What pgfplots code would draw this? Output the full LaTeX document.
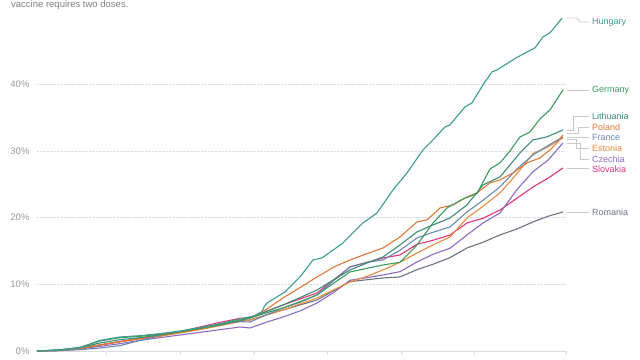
\documentclass[border=0pt]{standalone}
\usepackage{pgfplots}
\pgfplotsset{compat=1.18}
\usepackage{fontspec}
\setmainfont{Liberation Sans}
\definecolor{cHun}{HTML}{3D9C8C}
\definecolor{cGer}{HTML}{3C9A5F}
\definecolor{cLit}{HTML}{3F8C76}
\definecolor{cPol}{HTML}{E0773A}
\definecolor{cFra}{HTML}{6B87B5}
\definecolor{cEst}{HTML}{E88A3F}
\definecolor{cCze}{HTML}{8B6BC0}
\definecolor{cSlo}{HTML}{E0337A}
\definecolor{cRom}{HTML}{6B7381}
\definecolor{cGrid}{HTML}{DCDCDC}
\definecolor{cTick}{HTML}{999999}
\definecolor{cLead}{HTML}{C8C8C8}
\begin{document}
\begin{tikzpicture}
\begin{axis}[
  scale only axis, width=529pt, height=346.84pt,
  xmin=37, xmax=566, ymin=0, ymax=52,
  clip=false,
  axis x line*=bottom, axis y line*=left,
  y axis line style={draw=none},
  x axis line style={cGrid, line width=0.8pt},
  xtick={106.5,180,254,327.5,401,474.5,566},
  xticklabels={},
  xtick style={cGrid, line width=0.8pt},
  tick align=outside, major tick length=4pt,
  ytick={0,10,20,30,40},
  yticklabels={0\%,10\%,20\%,30\%,40\%},
  ytick style={draw=none},
  yticklabel style={font=\fontsize{9.5}{11}\selectfont, text=cTick, anchor=east, xshift=0pt},
  ymajorgrids, grid style={cGrid, densely dotted, line width=0.7pt},
  every axis plot/.append style={no marks, line width=1.1pt, line join=round},
]
% Romania
\addplot[cRom] coordinates {(37,0) (60,0.1) (80,0.4) (100,0.9) (120,1.4) (140,1.9) (160,2.3) (180,2.8) (200,3.3) (220,3.9) (240,4.5) (250,4.65) (283,6.15) (317,7.65) (350,10.4) (383,10.95) (400,11.1) (417,12.2) (433,13.0) (450,14.0) (467,15.45) (483,16.3) (500,17.4) (517,18.3) (533,19.35) (548,20.2) (563,20.85)};
% Slovakia
\addplot[cSlo] coordinates {(37,0) (60,0.1) (80,0.4) (100,0.9) (120,1.4) (140,1.9) (160,2.4) (180,2.9) (200,3.6) (220,4.3) (240,4.9) (250,5.0) (283,6.9) (317,8.7) (350,12.6) (383,13.95) (400,14.4) (417,16.0) (433,16.6) (450,17.4) (467,19.2) (483,19.9) (500,21.15) (517,22.9) (533,24.6) (548,25.9) (563,27.45)};
% Czechia
\addplot[cCze] coordinates {(37,0) (60,0.05) (80,0.3) (100,0.7) (120,1.1) (140,1.6) (160,2.0) (180,2.4) (200,2.8) (220,3.2) (240,3.6) (250,3.45) (266,4.3) (283,5.1) (300,6.0) (317,7.2) (334,8.8) (350,10.6) (367,11.0) (383,11.4) (400,11.9) (417,13.35) (433,14.5) (450,15.4) (467,17.4) (483,19.2) (500,20.7) (517,24.2) (533,26.9) (548,28.6) (563,31.2)};
% Estonia
\addplot[cEst] coordinates {(37,0) (60,0.1) (80,0.4) (100,0.9) (120,1.4) (140,1.8) (160,2.2) (180,2.7) (200,3.2) (220,3.8) (240,4.4) (250,4.65) (283,6.15) (317,7.95) (350,10.35) (367,11.2) (383,12.15) (400,13.3) (417,14.7) (433,15.9) (450,17.1) (467,19.95) (483,21.7) (500,23.7) (517,26.6) (533,29.6) (548,30.6) (563,31.95)};
% France
\addplot[cFra] coordinates {(37,0) (60,0.05) (80,0.2) (100,0.45) (120,0.8) (140,1.6) (160,2.3) (180,2.9) (200,3.4) (220,4.0) (240,4.4) (250,4.35) (266,5.4) (283,6.45) (300,7.3) (317,8.4) (334,10.6) (350,12.6) (367,13.3) (383,13.65) (400,15.1) (417,16.95) (433,17.8) (450,18.6) (467,20.85) (483,22.6) (500,24.6) (517,27.3) (533,29.4) (548,30.8) (563,32.1)};
% Poland
\addplot[cPol] coordinates {(37,0) (60,0.1) (80,0.4) (100,0.9) (120,1.4) (140,1.9) (160,2.3) (180,2.8) (200,3.4) (220,4.0) (240,4.6) (250,4.95) (266,6.2) (283,7.95) (300,9.5) (317,11.1) (334,12.6) (350,13.65) (367,14.6) (383,15.45) (400,17.1) (417,19.35) (427,19.65) (440,21.45) (453,21.9) (467,23.1) (477,23.7) (490,25.2) (500,25.65) (513,26.7) (527,28.2) (540,28.95) (550,30.15) (557,31.2) (563,32.4)};
% Lithuania
\addplot[cLit] coordinates {(37,0) (60,0.15) (80,0.5) (100,1.2) (120,1.7) (140,2.0) (160,2.4) (180,2.9) (200,3.4) (220,4.0) (240,4.6) (250,4.95) (266,5.9) (283,6.9) (300,8.0) (317,9.15) (334,10.7) (350,12.15) (367,13.2) (383,14.1) (400,15.9) (417,17.85) (433,18.9) (450,19.95) (467,21.9) (483,24.9) (500,26.1) (520,29.7) (533,31.65) (547,32.1) (563,33.15)};
% Germany
\addplot[cGer] coordinates {(37,0) (60,0.2) (80,0.55) (100,1.5) (120,2.0) (140,2.2) (160,2.5) (180,2.9) (200,3.4) (220,3.9) (240,4.6) (250,4.95) (266,5.7) (283,6.45) (300,7.4) (317,8.4) (334,10.2) (350,11.85) (367,12.4) (383,12.9) (400,13.3) (417,15.9) (433,19.2) (447,21.45) (463,22.8) (477,23.6) (490,27.3) (500,28.2) (510,30.0) (520,32.1) (530,32.85) (540,34.8) (550,36.15) (563,39.15)};
% Hungary
\addplot[cHun] coordinates {(37,0) (60,0.15) (80,0.5) (100,1.6) (120,2.1) (140,2.3) (160,2.6) (180,3.0) (200,3.5) (220,4.1) (240,4.8) (255,5.3) (262,5.9) (264,6.6) (267,7.2) (285,8.85) (300,11.1) (313,13.65) (322,13.95) (343,16.2) (363,19.2) (377,20.7) (393,24.15) (407,26.7) (423,30.15) (433,31.65) (445,33.6) (450,33.9) (465,36.6) (472,37.2) (483,39.9) (492,41.85) (497,42.15) (513,43.65) (518,44.1) (535,45.45) (543,47.1) (550,47.7) (562,49.9)};
\coordinate (O) at (axis cs:0,52.624);
\coordinate (PBL) at (axis cs:0,-1.1994);
\coordinate (PTR) at (axis cs:640,52.624);
\end{axis}
\begin{scope}[shift={(O)}, x=1pt, y=-1pt]
  \node[anchor=base west, inner sep=0pt, font=\fontsize{9.5}{11}\selectfont, text=gray] at (11,7.8) {vaccine requires two doses.};
  \begin{scope}[draw=cLead, line width=0.8pt]
    \draw (567,18) -- (577,18) -- (580,22) -- (589,22);
    \draw (567,90) -- (589,90);
    \draw (567,130) -- (573,130) -- (573,116) -- (589,116);
    \draw (567,133) -- (578,133) -- (578,127) -- (589,127);
    \draw (567,137) -- (589,137);
    \draw (567,139) -- (576,139) -- (576,148) -- (589,148);
    \draw (567,143) -- (580,143) -- (580,159) -- (589,159);
    \draw (567,168) -- (589,168);
    \draw (567,212) -- (589,212);
  \end{scope}
  \begin{scope}[every node/.style={anchor=west, inner sep=0pt, font=\fontsize{9}{10}\selectfont}]
    \node[text=cHun] at (592,22) {Hungary};
    \node[text=cGer] at (592,90) {Germany};
    \node[text=cLit] at (592,116) {Lithuania};
    \node[text=cPol] at (592,127) {Poland};
    \node[text=cFra] at (592,137.5) {France};
    \node[text=cEst] at (592,148) {Estonia};
    \node[text=cCze] at (592,159) {Czechia};
    \node[text=cSlo] at (592,169) {Slovakia};
    \node[text=cRom] at (592,212) {Romania};
  \end{scope}
\end{scope}
\pgfresetboundingbox
\useasboundingbox (PBL) rectangle (PTR);
\end{tikzpicture}
\end{document}
